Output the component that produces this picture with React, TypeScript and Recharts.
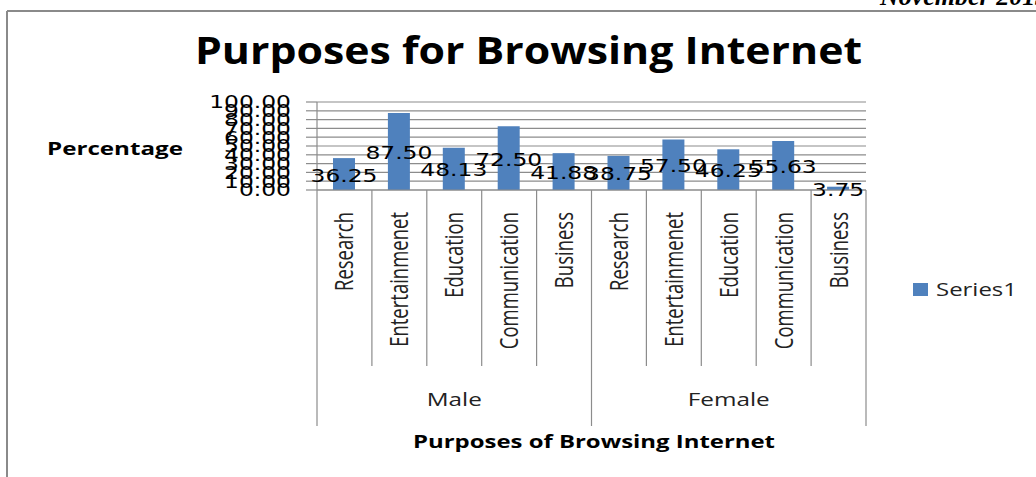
import React from 'react';
import { BarChart, Bar, XAxis, YAxis, CartesianGrid, LabelList, Legend } from 'recharts';

const purposes = [
  'Research', 'Entertainmenet', 'Education', 'Communication', 'Business',
  'Research', 'Entertainmenet', 'Education', 'Communication', 'Business',
];
const genders = ['Male', 'Male', 'Male', 'Male', 'Male', 'Female', 'Female', 'Female', 'Female', 'Female'];
const percentages = [36.25, 87.5, 48.13, 72.5, 41.88, 38.75, 57.5, 46.25, 55.63, 3.75];
const yTicks = [0, 10, 20, 30, 40, 50, 60, 70, 80, 90, 100];

const data = purposes.map((p, i) => ({ purpose: p, gender: genders[i], value: percentages[i] }));

const W = 1036;
const H = 477;
const PLOT_LEFT = 317;
const PLOT_RIGHT = 866;
const PLOT_TOP = 102;
const PLOT_BOTTOM = 190;
const XAXIS_H = 236;
const BAND = (PLOT_RIGHT - PLOT_LEFT) / data.length;
const GROUP = 5;

const BAR_COLOR = '#4F81BD';
const GRID = '#8c8c8c';
const SANS = '"Open Sans", "Noto Sans", sans-serif';
const STRETCH = 1.35;

const YTick = (props: any) => {
  const { x, y, payload } = props;
  return (
    <text
      transform={`translate(${x},${y}) scale(1.3,1)`}
      textAnchor="end"
      dy="0.36em"
      fontFamily="DejaVu Sans"
      fontSize={18}
      fill="#000"
    >
      {Number(payload.value).toFixed(2)}
    </text>
  );
};

const XTick = (props: any) => {
  const { x, y, payload, index } = props;
  const i = index as number;
  const left = x - BAND / 2;
  const groupStart = i % GROUP === 0;
  const last = i === data.length - 1;
  const mid = i % GROUP === Math.floor(GROUP / 2);
  return (
    <g>
      <line x1={left} x2={left} y1={y} y2={groupStart ? y + 236 : y + 176} stroke={GRID} strokeWidth={1.2} />
      {last && <line x1={x + BAND / 2} x2={x + BAND / 2} y1={y} y2={y + 236} stroke={GRID} strokeWidth={1.2} />}
      <text
        transform={`translate(${x},${y + 22}) scale(${STRETCH},1) rotate(-90)`}
        textAnchor="end"
        dy="0.36em"
        fontFamily={SANS}
        fontSize={18.5}
        fill="#222"
      >
        {payload.value}
      </text>
      {mid && (
        <text
          transform={`translate(${x},${y + 210}) scale(${STRETCH},1)`}
          textAnchor="middle"
          dy="0.36em"
          fontFamily={SANS}
          fontSize={18}
          fill="#222"
        >
          {data[i].gender}
        </text>
      )}
    </g>
  );
};

const ValueLabel = (props: any) => {
  const { x, y, width, height, value } = props;
  return (
    <text
      transform={`translate(${x + width / 2},${y + height / 2 + 1}) scale(1.3,1)`}
      textAnchor="middle"
      dy="0.36em"
      fontFamily="DejaVu Sans"
      fontSize={18}
      fill="#000"
    >
      {Number(value).toFixed(2)}
    </text>
  );
};

const LegendBox = () => (
  <div style={{ display: 'flex', alignItems: 'center' }}>
    <div style={{ width: 15, height: 13, background: BAR_COLOR }} />
    <span
      style={{
        marginLeft: 8,
        fontFamily: SANS,
        fontSize: 18,
        color: '#222',
        display: 'inline-block',
        transform: 'scaleX(1.33)',
        transformOrigin: 'left center',
      }}
    >
      Series1
    </span>
  </div>
);

export default function App() {
  return (
    <div style={{ position: 'absolute', left: 0, top: 0, width: W, height: H, background: '#fff', overflow: 'hidden' }}>
      <BarChart
        width={W}
        height={H}
        data={data}
        margin={{ top: PLOT_TOP, right: W - PLOT_RIGHT, bottom: H - PLOT_BOTTOM - XAXIS_H, left: PLOT_LEFT - 100 }}
      >
        <CartesianGrid horizontal vertical={false} stroke={GRID} strokeWidth={1.2} />
        <XAxis
          dataKey="purpose"
          height={XAXIS_H}
          interval={0}
          tickLine={false}
          tickSize={0}
          tickMargin={0}
          axisLine={{ stroke: GRID, strokeWidth: 1.2 }}
          tick={<XTick />}
        />
        <YAxis
          width={100}
          domain={[0, 100]}
          ticks={yTicks}
          interval={0}
          tickSize={11}
          tickMargin={15}
          tickLine={{ stroke: GRID, strokeWidth: 1.2 }}
          axisLine={{ stroke: GRID, strokeWidth: 1.2 }}
          tick={<YTick />}
        />
        <Legend
          layout="vertical"
          align="center"
          verticalAlign="middle"
          content={<LegendBox />}
          wrapperStyle={{ left: 913, top: 277, width: 120 }}
        />
        <Bar dataKey="value" name="Series1" fill={BAR_COLOR} barSize={22} isAnimationActive={false}>
          <LabelList dataKey="value" content={<ValueLabel />} />
        </Bar>
      </BarChart>
      <svg width={W} height={H} style={{ position: 'absolute', left: 0, top: 0, pointerEvents: 'none' }}>
        <line x1={7} x2={W} y1={11} y2={11} stroke="#8a8a8a" strokeWidth={2} />
        <line x1={7} x2={7} y1={11} y2={H} stroke="#8a8a8a" strokeWidth={2} />
        <text x={880} y={5} fontFamily="Liberation Serif" fontStyle="italic" fontWeight="bold" fontSize={26} fill="#000">
          November  2013
        </text>
        <text x={195} y={64} textLength={667} lengthAdjust="spacingAndGlyphs" fontFamily={SANS} fontWeight="bold" fontSize={38} fill="#000">
          Purposes for Browsing Internet
        </text>
        <text x={47} y={155} textLength={136} lengthAdjust="spacingAndGlyphs" fontFamily={SANS} fontWeight="bold" fontSize={17} fill="#000">
          Percentage
        </text>
        <text x={413} y={448} textLength={362} lengthAdjust="spacingAndGlyphs" fontFamily={SANS} fontWeight="bold" fontSize={17} fill="#000">
          Purposes of Browsing Internet
        </text>
      </svg>
    </div>
  );
}
